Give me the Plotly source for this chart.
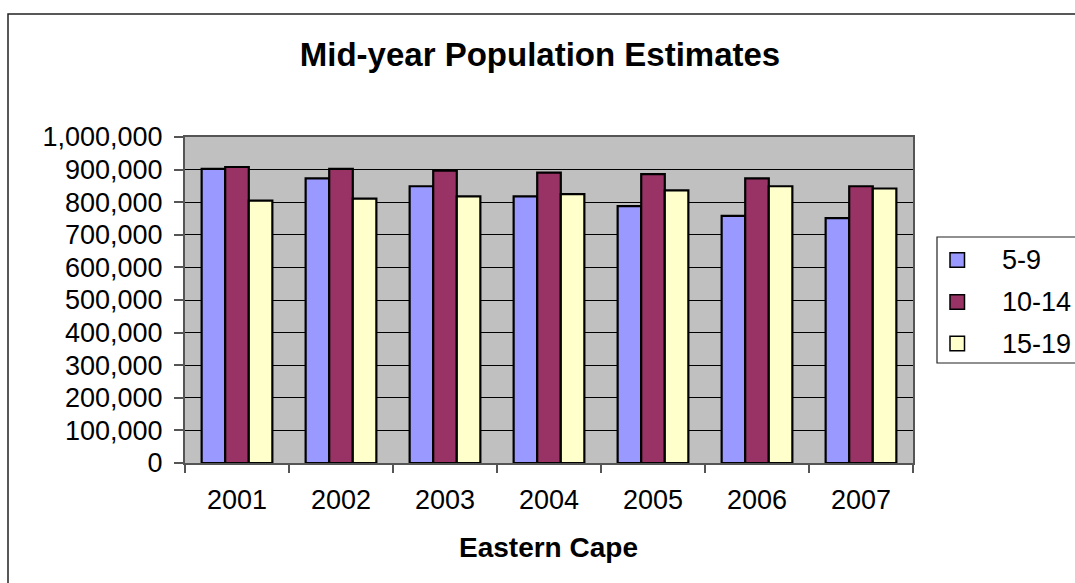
import plotly.graph_objects as go

# Mid-year population estimates, Eastern Cape, by age group
years = ["2001", "2002", "2003", "2004", "2005", "2006", "2007"]
age_groups = ["5-9", "10-14", "15-19"]
pop_5_9 = [902000, 873000, 849000, 818000, 788000, 758000, 751000]
pop_10_14 = [908000, 902000, 897000, 891000, 886000, 873000, 849000]
pop_15_19 = [805000, 811000, 818000, 825000, 836000, 849000, 842000]
colors = ["#9999FF", "#993366", "#FFFFCC"]

series = [pop_5_9, pop_10_14, pop_15_19]

W, H = 1075, 583
L, R, T, B = 185, 162, 137, 120
PW, PH = W - L - R, H - T - B
FONT = "Arial, Liberation Sans, sans-serif"


def px_x(x):
    return (x - L) / PW


def px_y(y):
    return (H - B - y) / PH


fig = go.Figure()
for name, vals, col in zip(age_groups, series, colors):
    fig.add_trace(go.Bar(
        x=years, y=vals, name=name,
        marker=dict(color=col, line=dict(color="#000000", width=2.2)),
        showlegend=False,
    ))

shapes = [
    # outer chart frame
    dict(type="rect", xref="paper", yref="paper",
         x0=px_x(8), x1=px_x(1090), y0=px_y(600), y1=px_y(14),
         line=dict(color="#222222", width=1.5), fillcolor="rgba(0,0,0,0)", layer="below"),
    # legend frame
    dict(type="rect", xref="paper", yref="paper",
         x0=px_x(937), x1=px_x(1090), y0=px_y(363), y1=px_y(237),
         line=dict(color="#222222", width=1.2), fillcolor="white"),
]
annotations = []
row_y = [260, 302, 343.5]
for name, col, ry in zip(age_groups, colors, row_y):
    shapes.append(dict(type="rect", xref="paper", yref="paper",
                       x0=px_x(950), x1=px_x(964.5), y0=px_y(ry + 7.2), y1=px_y(ry - 7.2),
                       line=dict(color="#000000", width=1.5), fillcolor=col))
    annotations.append(dict(text=name, xref="paper", yref="paper",
                            x=px_x(1000), y=px_y(ry), xanchor="left", yanchor="middle",
                            showarrow=False, font=dict(family=FONT, size=27, color="#000000")))

annotations.append(dict(text="<b>Eastern Cape</b>", xref="paper", yref="paper",
                        x=px_x(548), y=px_y(547), xanchor="center", yanchor="middle",
                        showarrow=False, font=dict(family=FONT, size=28, color="#000000")))

fig.update_layout(
    width=W, height=H,
    margin=dict(l=L, r=R, t=T, b=B),
    paper_bgcolor="white",
    plot_bgcolor="#C0C0C0",
    barmode="group",
    bargap=0.32,
    bargroupgap=0,
    title=dict(text="<b>Mid-year Population Estimates</b>",
               x=px_x(540), xref="paper", xanchor="center",
               y=1 - 54 / H, yref="container", yanchor="middle",
               font=dict(family=FONT, size=33, color="#000000")),
    shapes=shapes,
    annotations=annotations,
    xaxis=dict(
        type="category",
        showline=True, linecolor="#555555", linewidth=2, mirror=True,
        ticks="outside", tickson="boundaries", ticklen=8, tickcolor="#555555", tickwidth=2,
        ticklabelstandoff=12,
        showgrid=False,
        tickfont=dict(family=FONT, size=27, color="#000000"),
    ),
    yaxis=dict(
        range=[0, 1000000], dtick=100000, tickformat=",",
        showline=True, linecolor="#555555", linewidth=2, mirror=True,
        ticks="outside", ticklen=9, tickcolor="#555555", tickwidth=2,
        ticklabelstandoff=6,
        showgrid=True, gridcolor="#000000", gridwidth=1,
        zeroline=False,
        tickfont=dict(family=FONT, size=27, color="#000000"),
    ),
)

fig.write_html("out.html")
